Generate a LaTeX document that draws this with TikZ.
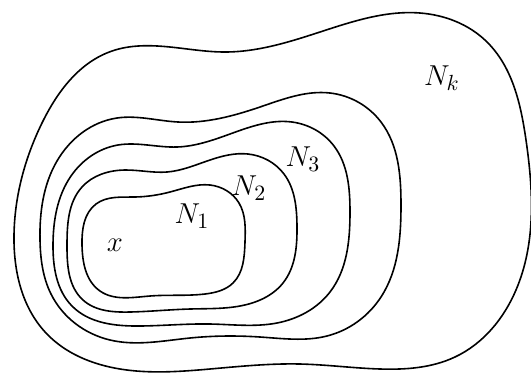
\documentclass[tikz,border=0pt]{standalone}
\usepackage{tikz}
\usetikzlibrary{
  hobby
}
\tikzset{
  region/.style={
    draw=black,
    line width=0.8pt,
    use Hobby shortcut,
    closed=true
  },
  setlabel/.style={
    font=\fontsize{15}{18}\selectfont,
    inner sep=0pt
  }
}

\begin{document}
\begin{tikzpicture}[x=0.5pt,y=-0.5pt]

  \useasboundingbox (0,0) rectangle (531,372);

  % N_1
  \draw[region]
  (82,245) .. (96,204) .. (135,197) .. (170,192) .. (210,185) ..
  (239,203) .. (245,242) .. (233,283) .. (205,294) .. (150,296) ..
  (100,291);

  % N_2
  \draw[region]
  (67,245) .. (82,187) .. (125,170) .. (167,172) .. (210,160) ..
  (248,154) .. (284,174) .. (297,226) .. (283,283) .. (240,306) ..
  (190,309) .. (130,312) .. (83,300);

  % N_3
  \draw[region]
  (53,245) .. (71,176) .. (118,145) .. (177,147) .. (230,134) ..
  (292,122) .. (334,146) .. (350,212) .. (330,292) .. (277,323) ..
  (210,324) .. (140,326) .. (72,306);

  % unlabelled one
  \draw[region]
  (40,240) .. (57,161) .. (117,118) .. (178,122) .. (260,107) ..
  (330,93) .. (381,122) .. (401,205) .. (381,297) .. (327,336) ..
  (260,337) .. (190,338) .. (110,340) .. (51,294);

  % N_k
  \draw[region]
  (14,235) .. (42,123) .. (112,51) .. (170,47) .. (225,52) ..
  (320,32) .. (420,13) .. (486,41) .. (526,140) .. (516,290) ..
  (455,357) .. (380,369) .. (300,364) .. (210,369) .. (120,369) ..
  (46,333);

  \node[setlabel] at (115,245) (x) {$x$};
  \node[setlabel] at (192,216) (n1) {$N_1$};
  \node[setlabel] at (249,188) (n2) {$N_2$};
  \node[setlabel] at (303,159) (n3) {$N_3$};
  \node[setlabel] at (442,78) (nk) {$N_k$};

\end{tikzpicture}
\end{document}
